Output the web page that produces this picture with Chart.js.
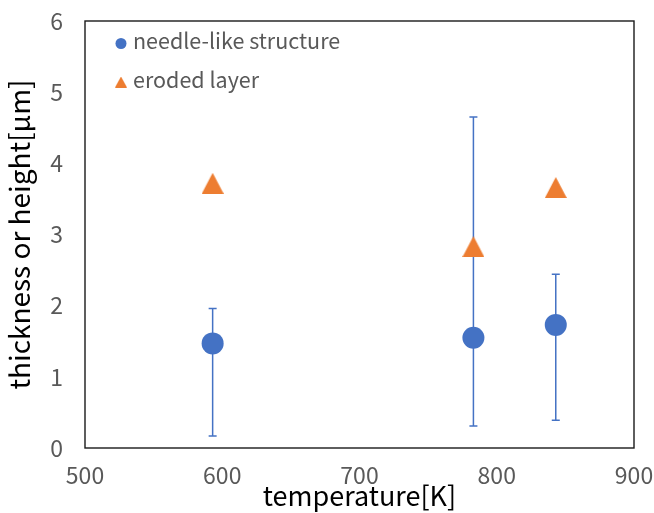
<!DOCTYPE html>
<html><head><meta charset="utf-8">
<script src="https://cdn.jsdelivr.net/npm/chart.js@4.4.1/dist/chart.umd.min.js"></script>
<style>html,body{margin:0;padding:0;background:#fff;}#wrap{width:654px;height:513px;}</style>
</head><body><div id="wrap"><canvas id="c" width="654" height="513"></canvas></div>
<script>
// ---- data ----
const temperatures = [593, 783, 843];
const needleHeights = [1.47, 1.55, 1.73];
const needleErrHigh = [1.96, 4.65, 2.44];
const needleErrLow = [0.17, 0.31, 0.39];
const erodedThickness = [3.72, 2.83, 3.66];
const seriesNames = ['needle-like structure', 'eroded layer'];
const xTickValues = [500, 600, 700, 800, 900];
const yTickValues = [0, 1, 2, 3, 4, 5, 6];
const xAxisTitle = 'temperature[K]';
const yAxisTitle = 'thickness or height[\u03bcm]';

// ---- styles ----
const BLUE = '#4472C4';
const ORANGE = '#ED7D31';
const FONT = "'Noto Sans CJK JP', 'Noto Sans', sans-serif";

function triangleImage(w, h, color) {
  const cv = document.createElement('canvas');
  cv.width = w; cv.height = h;
  const g = cv.getContext('2d');
  g.fillStyle = color;
  g.beginPath();
  g.moveTo(w / 2, 0);
  g.lineTo(w, h);
  g.lineTo(0, h);
  g.closePath();
  g.fill();
  return cv;
}
const triMarker = triangleImage(22, 21, ORANGE);
const triLegend = triangleImage(12, 11, ORANGE);

const errorBars = {
  id: 'errorBars',
  beforeDatasetsDraw(chart) {
    const {ctx, scales: {x, y}} = chart;
    ctx.save();
    ctx.strokeStyle = BLUE;
    ctx.lineWidth = 1.5;
    const cap = 4;
    temperatures.forEach((t, i) => {
      const px = x.getPixelForValue(t);
      const yh = y.getPixelForValue(needleErrHigh[i]);
      const yl = y.getPixelForValue(needleErrLow[i]);
      ctx.beginPath();
      ctx.moveTo(px, yh); ctx.lineTo(px, yl);
      ctx.moveTo(px - cap, yh); ctx.lineTo(px + cap, yh);
      ctx.moveTo(px - cap, yl); ctx.lineTo(px + cap, yl);
      ctx.stroke();
    });
    ctx.restore();
  }
};

const frameAndLegend = {
  id: 'frameAndLegend',
  afterDraw(chart) {
    const {ctx, chartArea: a} = chart;
    ctx.save();
    ctx.strokeStyle = '#1a1a1a';
    ctx.lineWidth = 1.4;
    ctx.strokeRect(a.left, a.top, a.right - a.left, a.bottom - a.top);
    // legend
    ctx.fillStyle = BLUE;
    ctx.beginPath();
    ctx.arc(a.left + 36, a.top + 22.5, 5.5, 0, Math.PI * 2);
    ctx.fill();
    ctx.drawImage(triLegend, a.left + 30, a.top + 55.5);
    ctx.fillStyle = '#595959';
    ctx.font = '21.5px ' + FONT;
    ctx.textBaseline = 'alphabetic';
    ctx.textAlign = 'left';
    ctx.fillText(seriesNames[0], a.left + 48, a.top + 27.5);
    ctx.fillText(seriesNames[1], a.left + 48, a.top + 67);
    ctx.restore();
  }
};

new Chart(document.getElementById('c'), {
  type: 'scatter',
  data: {
    datasets: [
      {
        label: seriesNames[0],
        data: temperatures.map((t, i) => ({x: t, y: needleHeights[i]})),
        pointStyle: 'circle',
        pointRadius: 11,
        pointHoverRadius: 11,
        backgroundColor: BLUE,
        borderWidth: 0,
        order: 2
      },
      {
        label: seriesNames[1],
        data: temperatures.map((t, i) => ({x: t, y: erodedThickness[i]})),
        pointStyle: triMarker,
        pointRadius: 11,
        backgroundColor: ORANGE,
        borderWidth: 0,
        order: 1
      }
    ]
  },
  options: {
    responsive: false,
    animation: false,
    devicePixelRatio: 1,
    layout: {padding: {top: 21, right: 20, left: 0, bottom: 0}},
    plugins: {legend: {display: false}, tooltip: {enabled: false}},
    scales: {
      x: {
        type: 'linear',
        min: xTickValues[0],
        max: xTickValues[xTickValues.length - 1],
        afterBuildTicks: s => { s.ticks = xTickValues.map(v => ({value: v})); },
        afterFit: s => { s.height = 65; s.paddingLeft = 0; s.paddingRight = 0; },
        grid: {display: false, drawTicks: false},
        border: {display: false},
        ticks: {color: '#595959', font: {family: FONT, size: 23}, padding: 13, maxRotation: 0},
        title: {display: true, text: xAxisTitle, color: '#000', font: {family: FONT, size: 27}, padding: {top: 0, bottom: 1.5}}
      },
      y: {
        type: 'linear',
        min: yTickValues[0],
        max: yTickValues[yTickValues.length - 1],
        afterBuildTicks: s => { s.ticks = yTickValues.map(v => ({value: v})); },
        afterFit: s => { s.width = 85; s.paddingTop = 0; s.paddingBottom = 0; },
        grid: {display: false, drawTicks: false},
        border: {display: false},
        ticks: {color: '#595959', font: {family: FONT, size: 23}, padding: 22},
        title: {display: true, text: yAxisTitle, color: '#000', font: {family: FONT, size: 28}, padding: {top: 3, bottom: 0}}
      }
    }
  },
  plugins: [errorBars, frameAndLegend]
});
</script></body></html>
